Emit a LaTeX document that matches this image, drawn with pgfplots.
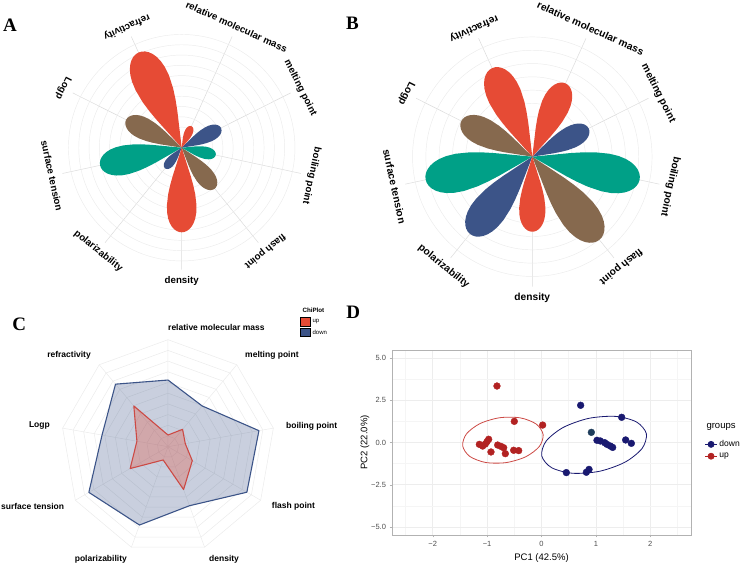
\documentclass[border=0pt]{standalone}
\usepackage{fontspec}
\setmainfont{Liberation Sans}
\newfontfamily\letterfont{Liberation Serif}
\usepackage{pgfplots}
\pgfplotsset{compat=1.18}
\usepackage{pgfplotstable}
\usepgfplotslibrary{polar}

\definecolor{npgred}{HTML}{E64B35}
\definecolor{npgblue}{HTML}{3C5488}
\definecolor{npggreen}{HTML}{00A087}
\definecolor{npgbrown}{HTML}{86694E}
\definecolor{navyc}{HTML}{191970}
\definecolor{firec}{HTML}{B22222}
\definecolor{tealc}{HTML}{1F3D5C}
\definecolor{upline}{HTML}{CC4A45}
\definecolor{spokegray}{gray}{0.86}
\definecolor{ringgray}{gray}{0.92}

% normalised petal outline (angle offset in degrees, relative radius)
\pgfplotstableread{
a r
-18 0
-17.64 0.3537
-17.1 0.4658
-16.2 0.5732
-14.4 0.7030
-12.6 0.7890
-10.8 0.8527
-9 0.9013
-7.2 0.9384
-5.4 0.9660
-3.6 0.9851
-1.8 0.9963
0 1
1.8 0.9963
3.6 0.9851
5.4 0.9660
7.2 0.9384
9 0.9013
10.8 0.8527
12.6 0.7890
14.4 0.7030
16.2 0.5732
17.1 0.4658
17.64 0.3537
18 0
}\petaltab

% PCA scores
\pgfplotstableread{
x y
-0.819 3.34
-0.500 1.25
0.021 1.03
-1.143 -0.11
-1.082 -0.21
-1.033 -0.09
-0.972 0.19
-0.929 -0.56
-0.806 -0.15
-0.745 -0.23
-0.696 -0.31
-0.665 -0.66
-0.512 -0.46
-0.420 -0.48
-1.002 0.05
}\uptab
\pgfplotstableread{
x y
0.720 2.20
1.475 1.49
1.021 0.13
1.082 0.09
1.162 -0.01
1.266 -0.21
1.309 -0.29
1.548 0.15
1.653 -0.05
0.457 -1.78
0.825 -1.76
0.874 -1.59
1.205 -0.11
}\downtab

\newcommand\petal[3]{\addplot[fill=#1, draw=none, forget plot] table[x expr=\thisrow{a}+#2, y expr=\thisrow{r}*#3]{\petaltab};}

\begin{document}
\begin{tikzpicture}
\path[use as bounding box] (0pt,0pt) rectangle (742pt,567pt);

% ---------------- Panel A ----------------
\begin{polaraxis}[
  at={(181.7pt,419.3pt)}, anchor=center,
  scale only axis, width=244pt, height=244pt,
  ymin=0, ymax=11.85,
  xtick={65.6,26.7,347.8,308.9,270,231.1,192.2,153.3,114.4},
  ytick={1,...,11},
  xticklabels={}, yticklabels={},
  xmajorgrids, ymajorgrids,
  x grid style={spokegray, line width=0.5pt},
  y grid style={ringgray, line width=0.45pt},
  axis line style={draw=none}, major tick length=0pt,
  clip=false,
]
\petal{npgred}{114.4}{10.15}
\petal{npgbrown}{153.3}{6.04}
\petal{npggreen}{192.2}{8.11}
\petal{npgblue}{231.1}{2.57}
\petal{npgred}{270}{8.22}
\petal{npgbrown}{308.9}{5.11}
\petal{npggreen}{347.8}{3.38}
\petal{npgblue}{26.7}{4.27}
\petal{npgred}{65.6}{2.29}
\node[font=\fontsize{9.7}{11}\selectfont\bfseries, inner sep=0pt, rotate=-24.4] at (axis cs:65.6,12.9) {relative molecular mass};
\node[font=\fontsize{9.7}{11}\selectfont\bfseries, inner sep=0pt, rotate=-63.3] at (axis cs:26.7,12.9) {melting point};
\node[font=\fontsize{9.7}{11}\selectfont\bfseries, inner sep=0pt, rotate=-102.2] at (axis cs:347.8,12.9) {boiling point};
\node[font=\fontsize{9.7}{11}\selectfont\bfseries, inner sep=0pt, rotate=-141.1] at (axis cs:308.9,12.9) {flash point};
\node[font=\fontsize{9.7}{11}\selectfont\bfseries, inner sep=0pt] at (axis cs:270,12.9) {density};
\node[font=\fontsize{9.7}{11}\selectfont\bfseries, inner sep=0pt, rotate=-38.9] at (axis cs:231.1,12.9) {polarizability};
\node[font=\fontsize{9.7}{11}\selectfont\bfseries, inner sep=0pt, rotate=-77.8] at (axis cs:192.2,12.9) {surface tension};
\node[font=\fontsize{9.7}{11}\selectfont\bfseries, inner sep=0pt, rotate=-116.7] at (axis cs:153.3,12.9) {Logp};
\node[font=\fontsize{9.7}{11}\selectfont\bfseries, inner sep=0pt, rotate=-155.6] at (axis cs:114.4,12.9) {refractivity};
\end{polaraxis}

% ---------------- Panel B ----------------
\begin{polaraxis}[
  at={(532.3pt,410.3pt)}, anchor=center,
  scale only axis, width=260pt, height=260pt,
  ymin=0, ymax=9.77,
  xtick={65.6,26.7,347.8,308.9,270,231.1,192.2,153.3,114.4},
  ytick={1,...,9},
  xticklabels={}, yticklabels={},
  xmajorgrids, ymajorgrids,
  x grid style={spokegray, line width=0.5pt},
  y grid style={ringgray, line width=0.45pt},
  axis line style={draw=none}, major tick length=0pt,
  clip=false,
]
\petal{npgred}{114.4}{7.31}
\petal{npgbrown}{153.3}{5.97}
\petal{npggreen}{192.2}{8.20}
\petal{npgblue}{231.1}{7.46}
\petal{npgred}{270}{5.64}
\petal{npgbrown}{308.9}{8.03}
\petal{npggreen}{347.8}{8.25}
\petal{npgblue}{26.7}{4.74}
\petal{npgred}{65.6}{6.05}
\node[font=\fontsize{10.2}{12}\selectfont\bfseries, inner sep=0pt, rotate=-24.4] at (axis cs:65.6,10.6) {relative molecular mass};
\node[font=\fontsize{10.2}{12}\selectfont\bfseries, inner sep=0pt, rotate=-63.3] at (axis cs:26.7,10.6) {melting point};
\node[font=\fontsize{10.2}{12}\selectfont\bfseries, inner sep=0pt, rotate=-102.2] at (axis cs:347.8,10.6) {boiling point};
\node[font=\fontsize{10.2}{12}\selectfont\bfseries, inner sep=0pt, rotate=-141.1] at (axis cs:308.9,10.6) {flash point};
\node[font=\fontsize{10.2}{12}\selectfont\bfseries, inner sep=0pt] at (axis cs:270,10.6) {density};
\node[font=\fontsize{10.2}{12}\selectfont\bfseries, inner sep=0pt, rotate=-38.9] at (axis cs:231.1,10.6) {polarizability};
\node[font=\fontsize{10.2}{12}\selectfont\bfseries, inner sep=0pt, rotate=-77.8] at (axis cs:192.2,10.6) {surface tension};
\node[font=\fontsize{10.2}{12}\selectfont\bfseries, inner sep=0pt, rotate=-116.7] at (axis cs:153.3,10.6) {Logp};
\node[font=\fontsize{10.2}{12}\selectfont\bfseries, inner sep=0pt, rotate=-155.6] at (axis cs:114.4,10.6) {refractivity};
\end{polaraxis}

% ---------------- Panel C ----------------
\begin{polaraxis}[
  at={(168pt,120.3pt)}, anchor=center,
  scale only axis, width=214pt, height=214pt,
  ymin=0, ymax=10,
  xtick={90,50,10,330,290,250,210,170,130},
  ytick=\empty,
  xticklabels={},
  xmajorgrids,
  x grid style={ringgray, line width=0.5pt},
  axis line style={draw=none}, major tick length=0pt,
  clip=false,
  legend style={at={(1.117,1.106)}, anchor=north west, draw=none, fill=none,
    font=\fontsize{6}{7}\selectfont, row sep=1.5pt, inner sep=0pt},
  legend cell align=left,
  legend image code/.code={\fill[#1] (0pt,-4pt) rectangle (10pt,4.5pt);},
]
\addlegendimage{fill=npgred}
\addlegendentry{up}
\addlegendimage{fill=npgblue}
\addlegendentry{down}
\pgfplotsinvokeforeach{1,...,10}{
  \addplot[ringgray, line width=0.5pt, forget plot] coordinates {(90,#1)(50,#1)(10,#1)(330,#1)(290,#1)(250,#1)(210,#1)(170,#1)(130,#1)(90,#1)};
}
\addplot[draw=npgblue, line width=1.1pt, fill=npgblue, fill opacity=0.28, line join=round, forget plot] coordinates {
(90,6.23)(50,4.97)(10,8.63)(330,8.51)(290,5.87)(250,7.79)(210,8.54)(170,6.26)(130,7.63)(90,6.23)};
\addplot[draw=upline, line width=1.1pt, fill=npgred, fill opacity=0.3, line join=round, forget plot] coordinates {
(90,1.09)(50,2.12)(10,1.64)(330,2.62)(290,4.26)(250,1.32)(210,4.08)(170,2.95)(130,4.97)(90,1.09)};
\node[font=\fontsize{8.5}{10}\selectfont\bfseries, inner sep=0pt, anchor=west] at (axis cs:90,11.15) {relative molecular mass};
\node[font=\fontsize{8.5}{10}\selectfont\bfseries, inner sep=0pt, anchor=west] at (axis cs:50,11.2) {melting point};
\node[font=\fontsize{8.5}{10}\selectfont\bfseries, inner sep=0pt, anchor=west] at (axis cs:10,11.2) {boiling point};
\node[font=\fontsize{8.5}{10}\selectfont\bfseries, inner sep=0pt, anchor=west] at (axis cs:330,11.2) {flash point};
\node[font=\fontsize{8.5}{10}\selectfont\bfseries, inner sep=0pt, anchor=west] at (axis cs:290,11.2) {density};
\node[font=\fontsize{8.5}{10}\selectfont\bfseries, inner sep=0pt, anchor=east] at (axis cs:250,11.2) {polarizability};
\node[font=\fontsize{8.5}{10}\selectfont\bfseries, inner sep=0pt, anchor=east] at (axis cs:210,11.2) {surface tension};
\node[font=\fontsize{8.5}{10}\selectfont\bfseries, inner sep=0pt, anchor=east] at (axis cs:170,11.2) {Logp};
\node[font=\fontsize{8.5}{10}\selectfont\bfseries, inner sep=0pt, anchor=east] at (axis cs:130,11.2) {refractivity};
\end{polaraxis}
\node[anchor=west, font=\fontsize{6.2}{7}\selectfont\bfseries] at (299pt,257pt) {ChiPlot};

% ---------------- Panel D ----------------
\begin{axis}[
  at={(392pt,32pt)}, anchor=south west,
  scale only axis, width=299pt, height=185pt,
  xmin=-2.75, xmax=2.75, ymin=-5.47, ymax=5.47,
  xtick={-2,-1,0,1,2}, ytick={-5,-2.5,0,2.5,5},
  xticklabels={−2,−1,0,1,2}, yticklabels={−5.0,−2.5,0.0,2.5,5.0},
  minor xtick={-2.5,-1.5,-0.5,0.5,1.5,2.5},
  minor ytick={-3.75,-1.25,1.25,3.75},
  grid=both,
  major grid style={gray!14, line width=0.6pt},
  minor grid style={gray!8, line width=0.4pt},
  axis line style={gray!60, line width=0.6pt},
  tick pos=left, tick align=outside, major tick length=2.5pt, minor tick length=0pt,
  tick style={gray!60},
  ticklabel style={font=\fontsize{7.5}{9}\selectfont, text=black!70},
  xlabel={PC1 (42.5\%)}, ylabel={PC2 (22.0\%)},
  label style={font=\fontsize{9.5}{11}\selectfont},
  ylabel style={yshift=-5pt},
  legend style={at={(1.035,0.46)}, anchor=west, draw=none, fill=none,
    font=\fontsize{8.5}{10}\selectfont, row sep=1pt},
  legend cell align=left,
  legend image code/.code={\draw[mark repeat=2, mark phase=2, #1] plot coordinates {(0pt,0pt) (6pt,0pt) (12pt,0pt)};},
]
\addlegendimage{navyc, line width=0.8pt, mark=*, mark size=3pt}
\addlegendentry{down}
\addlegendimage{firec, line width=0.8pt, mark=*, mark size=3pt}
\addlegendentry{up}
\addplot[upline, line width=0.8pt, smooth cycle, forget plot] coordinates {
(0.030,0.473)(-0.098,1.093)(-0.390,1.456)(-0.768,1.465)(-1.130,1.120)(-1.380,0.511)
(-1.450,-0.197)(-1.322,-0.817)(-1.030,-1.180)(-0.652,-1.189)(-0.290,-0.844)(-0.040,-0.235)};
\addplot[navyc, line width=0.8pt, smooth cycle, forget plot] coordinates {
(1.929,0.521)(1.748,1.213)(1.360,1.544)(0.864,1.424)(0.397,0.886)(0.083,0.073)
(0.005,-0.797)(0.186,-1.489)(0.574,-1.820)(1.070,-1.700)(1.537,-1.162)(1.851,-0.349)};
\addplot[only marks, mark=*, mark size=3.4pt, firec, forget plot] table {\uptab};
\addplot[only marks, mark=*, mark size=3.4pt, navyc, forget plot] table {\downtab};
\addplot[only marks, mark=*, mark size=3.4pt, tealc, forget plot] coordinates {(0.917,0.60)};
\end{axis}
\node[anchor=west, font=\fontsize{9.5}{11}\selectfont] at (703pt,140pt) {groups};

% panel letters
\node[font=\letterfont\fontsize{19}{20}\selectfont\bfseries] at (10pt,542pt) {A};
\node[font=\letterfont\fontsize{19}{20}\selectfont\bfseries] at (352.5pt,543.7pt) {B};
\node[font=\letterfont\fontsize{19}{20}\selectfont\bfseries] at (19.2pt,242.8pt) {C};
\node[font=\letterfont\fontsize{19}{20}\selectfont\bfseries] at (353.3pt,254.5pt) {D};
\end{tikzpicture}
\end{document}
